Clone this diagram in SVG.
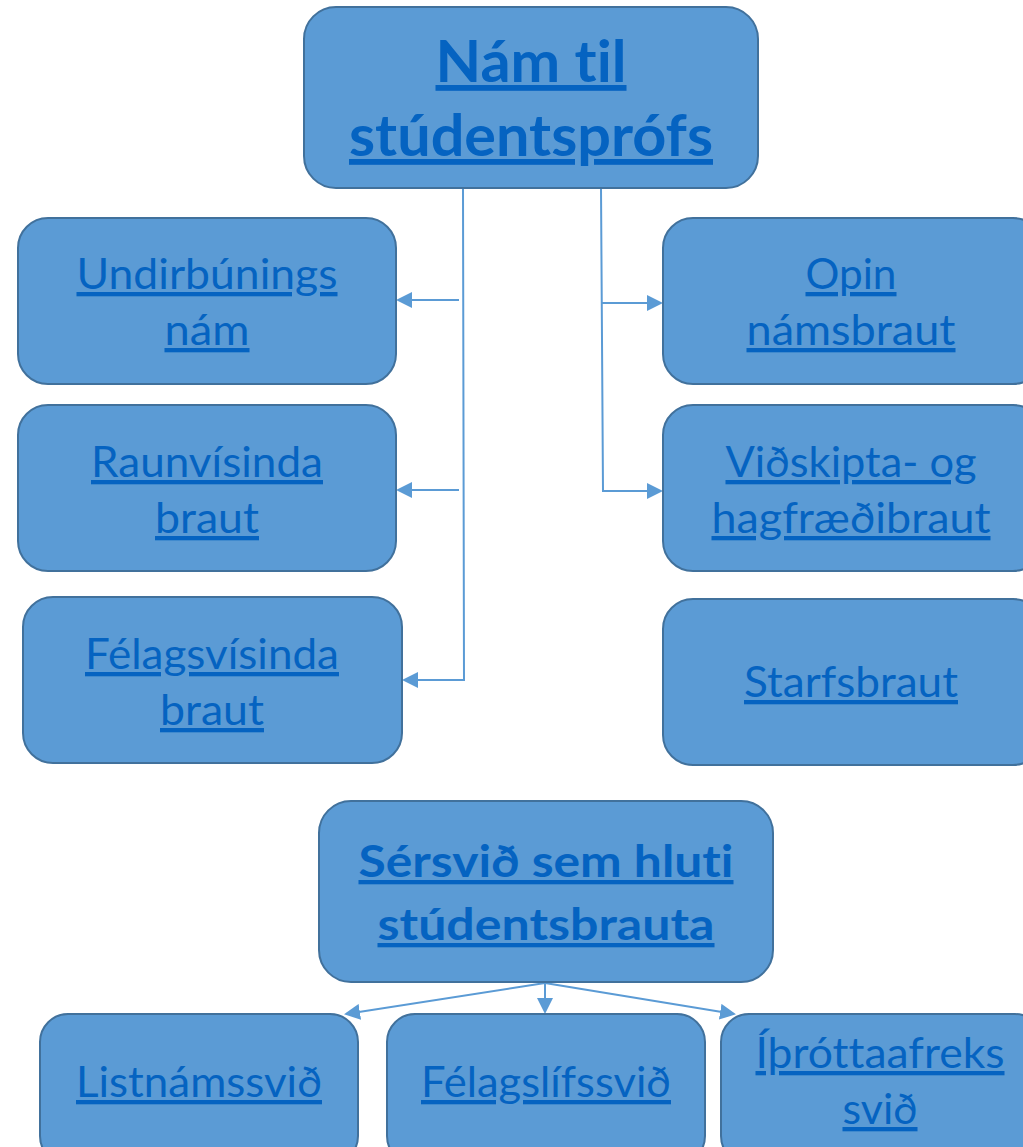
<svg xmlns="http://www.w3.org/2000/svg" width="1023" height="1147" viewBox="0 0 1023 1147">
<style>
.box{fill:#5B9BD5;stroke:#41719C;stroke-width:2}
.t{font-family:Lato,"Noto Sans",sans-serif;font-size:43px;fill:#0563C1;text-decoration:underline;text-anchor:middle;font-variant-ligatures:none;font-feature-settings:"liga" 0,"dlig" 0}
.b{font-weight:bold;font-size:58px}
.b2{font-weight:bold;font-size:43px}
.c{fill:none;stroke:#5B9BD5;stroke-width:2}
</style>
<defs>
<marker id="ah" markerWidth="8" markerHeight="8" refX="7" refY="4" orient="auto" markerUnits="strokeWidth">
<path d="M0,0 L8,4 L0,8 Z" fill="#5B9BD5"/>
</marker>
</defs>
<rect width="1023" height="1147" fill="#fff"/>
<g id="connectors">
<polyline class="c" points="463,188 464,680 404,680" marker-end="url(#ah)"/>
<line class="c" x1="459" y1="300" x2="398" y2="300" marker-end="url(#ah)"/>
<line class="c" x1="459" y1="490" x2="398" y2="490" marker-end="url(#ah)"/>
<polyline class="c" points="601,188 603,491 661,491" marker-end="url(#ah)"/>
<line class="c" x1="602" y1="303" x2="661" y2="303" marker-end="url(#ah)"/>
<line class="c" x1="545" y1="983" x2="346" y2="1014" marker-end="url(#ah)"/>
<line class="c" x1="545" y1="983" x2="545" y2="1012" marker-end="url(#ah)"/>
<line class="c" x1="545" y1="983" x2="734" y2="1014" marker-end="url(#ah)"/>
</g>
<g id="n-top">
<rect class="box" x="304" y="7" width="454" height="181" rx="32"/>
<text class="t b" x="531" y="82" textLength="191" lengthAdjust="spacingAndGlyphs">Nám til</text>
<text class="t b" x="531" y="156" textLength="364" lengthAdjust="spacingAndGlyphs">stúdentsprófs</text>
</g>
<g id="n-undir">
<rect class="box" x="18" y="218" width="378" height="166" rx="30"/>
<text class="t" x="207" y="289" textLength="261" lengthAdjust="spacingAndGlyphs">Undirbúnings</text>
<text class="t" x="207" y="345" textLength="85" lengthAdjust="spacingAndGlyphs">nám</text>
</g>
<g id="n-raun">
<rect class="box" x="18" y="405" width="378" height="166" rx="30"/>
<text class="t" x="207" y="477" textLength="232" lengthAdjust="spacingAndGlyphs">Raunvísinda</text>
<text class="t" x="207" y="533" textLength="104" lengthAdjust="spacingAndGlyphs">braut</text>
</g>
<g id="n-felags">
<rect class="box" x="23" y="597" width="379" height="166" rx="30"/>
<text class="t" x="212" y="669" textLength="254" lengthAdjust="spacingAndGlyphs">Félagsvísinda</text>
<text class="t" x="212" y="725" textLength="104" lengthAdjust="spacingAndGlyphs">braut</text>
</g>
<g id="n-opin">
<rect class="box" x="663" y="218" width="380" height="166" rx="30"/>
<text class="t" x="851" y="289" textLength="91" lengthAdjust="spacingAndGlyphs">Opin</text>
<text class="t" x="851" y="345" textLength="209" lengthAdjust="spacingAndGlyphs">námsbraut</text>
</g>
<g id="n-vidsk">
<rect class="box" x="663" y="405" width="380" height="166" rx="30"/>
<text class="t" x="851" y="477" textLength="251" lengthAdjust="spacingAndGlyphs">Viðskipta- og</text>
<text class="t" x="851" y="533" textLength="279" lengthAdjust="spacingAndGlyphs">hagfræðibraut</text>
</g>
<g id="n-starf">
<rect class="box" x="663" y="599" width="380" height="166" rx="30"/>
<text class="t" x="851" y="697" textLength="214" lengthAdjust="spacingAndGlyphs">Starfsbraut</text>
</g>
<g id="n-sersvid">
<rect class="box" x="319" y="801" width="454" height="181" rx="32"/>
<text class="t b2" x="546" y="877" textLength="375" lengthAdjust="spacingAndGlyphs">Sérsvið sem hluti</text>
<text class="t b2" x="546" y="940" textLength="337" lengthAdjust="spacingAndGlyphs">stúdentsbrauta</text>
</g>
<g id="n-list">
<rect class="box" x="40" y="1014" width="318" height="150" rx="28"/>
<text class="t" x="199" y="1097" textLength="246" lengthAdjust="spacingAndGlyphs">Listnámssvið</text>
</g>
<g id="n-felagslif">
<rect class="box" x="387" y="1014" width="318" height="150" rx="28"/>
<text class="t" x="546" y="1097" textLength="250" lengthAdjust="spacingAndGlyphs">Félagslífssvið</text>
</g>
<g id="n-ithrott">
<rect class="box" x="721" y="1014" width="322" height="150" rx="28"/>
<text class="t" x="880" y="1068" textLength="249" lengthAdjust="spacingAndGlyphs">Íþróttaafreks</text>
<text class="t" x="880" y="1124" textLength="75" lengthAdjust="spacingAndGlyphs">svið</text>
</g>
</svg>
